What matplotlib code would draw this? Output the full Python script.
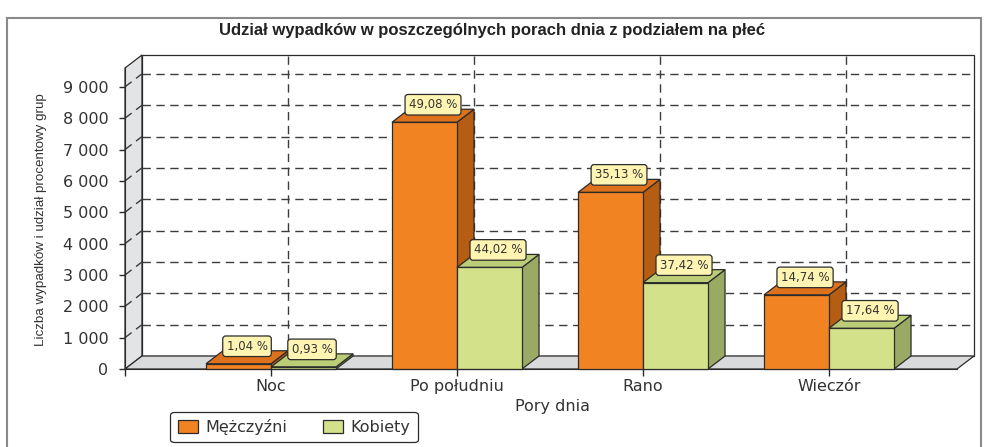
import matplotlib
matplotlib.use("Agg")
import matplotlib.pyplot as plt
from matplotlib.patches import Polygon, Rectangle, Patch
from matplotlib import font_manager as fm

# ---------------- data ----------------
categories = ["Noc", "Po południu", "Rano", "Wieczór"]
men = [167, 7870, 5633, 2364]
women = [68, 3240, 2754, 1298]
men_pct = ["1,04 %", "49,08 %", "35,13 %", "14,74 %"]
women_pct = ["0,93 %", "44,02 %", "37,42 %", "17,64 %"]
series_names = ["Mężczyźni", "Kobiety"]
yticks = [0, 1000, 2000, 3000, 4000, 5000, 6000, 7000, 8000, 9000]
title = "Udział wypadków w poszczególnych porach dnia z podziałem na płeć"
ylabel = "Liczba wypadków i udział procentowy grup"
xlabel = "Pory dnia"

# ---------------- style ----------------
def has_font(name):
    try:
        fm.findfont(fm.FontProperties(family=name), fallback_to_default=False)
        return True
    except Exception:
        return False

narrow = "Liberation Sans Narrow" if has_font("Liberation Sans Narrow") else "Liberation Sans"
ylab_size = 11.5 if narrow == "Liberation Sans Narrow" else 9.6
plt.rcParams['font.family'] = ['DejaVu Sans']

ORANGE = dict(front="#F28322", top="#DE711B", side="#B65D14")
GREEN = dict(front="#D3E18B", top="#BCCD78", side="#9AA964")
EDGE = "#2b2b2b"
TXT = "#333333"

W, H = 984, 447
fig = plt.figure(figsize=(W / 100, H / 100), dpi=100)

ax_l, ax_r, ax_b, ax_t = 125, 957, 369, 68
ax = fig.add_axes([ax_l / W, (H - ax_b) / H, (ax_r - ax_l) / W, (ax_b - ax_t) / H])

XMIN, XMAX = -0.785, 3.688
YMAX = 9600
ax.set_xlim(XMIN, XMAX)
ax.set_ylim(0, YMAX)

px_x = (ax_r - ax_l) / (XMAX - XMIN)
px_y = (ax_b - ax_t) / YMAX
DX = 17 / px_x
DY = 13 / px_y

# outer frame
fig.patches.append(Rectangle((7 / W, -0.05), (981 - 7) / W, 1.05 - 18 / H,
                             transform=fig.transFigure, fill=False,
                             edgecolor="#8a8a8a", lw=1.5))

# walls
left_wall = Polygon([(XMIN, 0), (XMIN, YMAX), (XMIN + DX, YMAX + DY), (XMIN + DX, DY)],
                    closed=True, facecolor="#E3E4E6", edgecolor=EDGE, lw=0.9,
                    zorder=0.5, clip_on=False)
back_wall = Polygon([(XMIN + DX, DY), (XMAX + DX, DY), (XMAX + DX, YMAX + DY), (XMIN + DX, YMAX + DY)],
                    closed=True, facecolor="white", edgecolor=EDGE, lw=0.9,
                    zorder=0.5, clip_on=False)
floor = Polygon([(XMIN, 0), (XMAX, 0), (XMAX + DX, DY), (XMIN + DX, DY)],
                closed=True, facecolor="#D9DADC", edgecolor=EDGE, lw=0.9,
                zorder=0.7, clip_on=False)
for p in (left_wall, back_wall, floor):
    ax.add_patch(p)

dash = dict(color="#3c3c3c", lw=1.0, ls=(0, (6, 4)), zorder=0.6, clip_on=False)
for v in yticks[1:]:
    ax.plot([XMIN + DX, XMAX + DX], [v + DY, v + DY], **dash)
    ax.plot([XMIN, XMIN + DX], [v, v + DY], **dash)
for i in range(len(categories)):
    ax.plot([i + DX, i + DX], [DY, YMAX + DY], **dash)

# bars
BW = 65 / px_x

def bar3d(xl, h, col, z):
    xr = xl + BW
    ax.add_patch(Polygon([(xr, 0), (xr + DX, DY), (xr + DX, h + DY), (xr, h)], closed=True,
                         facecolor=col["side"], edgecolor=EDGE, lw=0.9, zorder=z, clip_on=False))
    ax.add_patch(Polygon([(xl, h), (xr, h), (xr + DX, h + DY), (xl + DX, h + DY)], closed=True,
                         facecolor=col["top"], edgecolor=EDGE, lw=0.9, zorder=z, clip_on=False))
    ax.bar([xl], [h], width=BW, align="edge", color=col["front"], edgecolor=EDGE,
           lw=0.9, zorder=z + 0.1, clip_on=False)

z = 2
for i in range(len(categories)):
    bar3d(i - BW, men[i], ORANGE, z)
    z += 0.3
    bar3d(i, women[i], GREEN, z)
    z += 0.3

box = dict(boxstyle="round,pad=0.32,rounding_size=0.25", facecolor="#FFF4B2",
           edgecolor=EDGE, lw=0.9)
for i in range(len(categories)):
    for xl, h, lab in ((i - BW, men[i], men_pct[i]), (i, women[i], women_pct[i])):
        ax.annotate(lab, xy=(xl + BW / 2 + DX / 2, h), xytext=(0, 12.6),
                    textcoords="offset points", ha="center", va="center",
                    fontsize=8.5, color=TXT, bbox=box, zorder=10, annotation_clip=False)

# axes styling
for s in ("top", "right"):
    ax.spines[s].set_visible(False)
ax.spines["left"].set_color(EDGE)
ax.spines["bottom"].set_color(EDGE)
ax.spines["left"].set_zorder(3)
ax.spines["bottom"].set_zorder(3)
ax.set_yticks(yticks)
ax.set_yticklabels([f"{v:,}".replace(",", " ") for v in yticks])
ax.set_xticks(range(len(categories)))
ax.set_xticklabels(categories)
ax.set_xticks([XMIN], minor=True)
ax.tick_params(axis="y", length=4, width=1, color=EDGE, pad=8, labelsize=11.5, labelcolor=TXT)
ax.tick_params(axis="x", which="both", length=5, width=1, color=EDGE, pad=2,
               labelsize=11.5, labelcolor=TXT)
ax.patch.set_visible(False)

ax.set_ylabel(ylabel, family=[narrow, "DejaVu Sans"], fontsize=ylab_size, color=TXT)
ax.yaxis.set_label_coords(-0.094, 0.495)
ax.set_xlabel(xlabel, fontsize=11.5, color=TXT)
ax.xaxis.set_label_coords((552 - ax_l) / (ax_r - ax_l), -0.1)

fig.text(492 / W, 1 - 31 / H, title, ha="center", va="center", fontsize=12,
         fontweight="bold", family=["Liberation Sans", "DejaVu Sans"], color="#222222")

handles = [Patch(facecolor=ORANGE["front"], edgecolor=EDGE, lw=0.9),
           Patch(facecolor=GREEN["front"], edgecolor=EDGE, lw=0.9)]
leg = fig.legend(handles, series_names, loc="center", bbox_to_anchor=(294 / W, 1 - 427 / H),
                 ncol=2, fontsize=11.5, frameon=True, fancybox=True, framealpha=1,
                 edgecolor=EDGE, handlelength=1.25, handleheight=0.8, handletextpad=0.5,
                 columnspacing=2.2, borderpad=0.45, labelcolor=TXT)
leg.get_frame().set_linewidth(0.9)

fig.savefig("out.png", dpi=100)
